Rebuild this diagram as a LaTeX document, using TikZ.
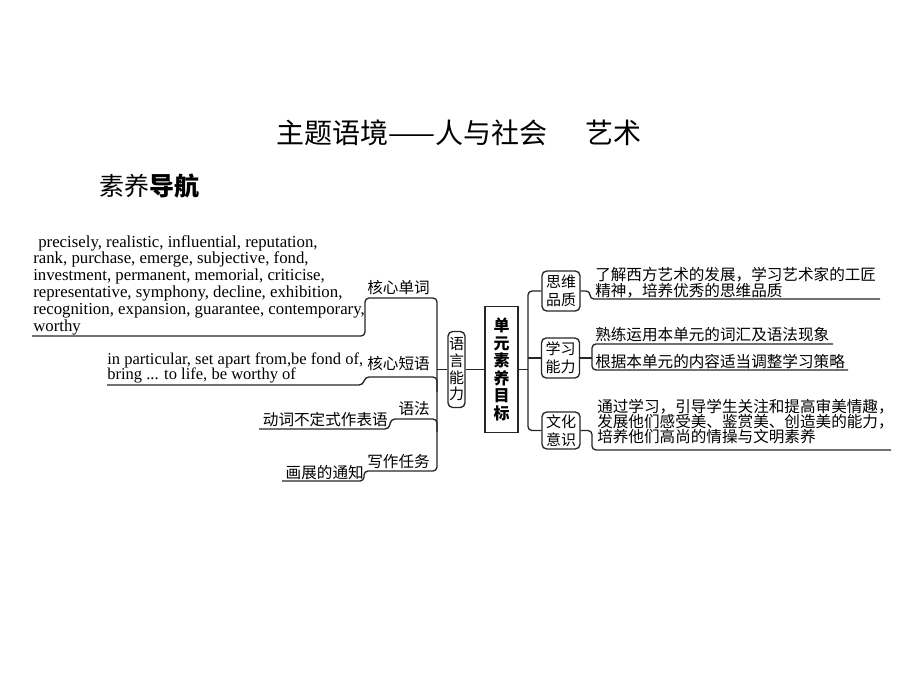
\documentclass[tikz,border=0pt]{standalone}
\usepackage{fontspec}
\setmainfont{Liberation Serif}
\newfontfamily\cjk{Noto Sans CJK SC}
\begin{document}
\begin{tikzpicture}[x=0.75pt,y=-0.75pt,
  ln/.style={line width=1pt, black!85, rounded corners=3pt},
  en/.style={font=\fontsize{12.4}{12.6}\selectfont, inner sep=0, anchor=base west},
  enw/.style={en, font=\fontsize{12.6}{12.6}\selectfont},
  zh/.style={font=\cjk\fontsize{11.7}{13}\selectfont, inner sep=0},
  zbox/.style={draw, line width=1pt, black!85, text=black, rounded corners=3.5pt, align=center, inner sep=0},
]
\useasboundingbox (0,0) rectangle (920,690);

% title
\node[anchor=west, inner sep=0, font=\cjk\fontsize{21}{22}\selectfont] (title) at (276,133) {主题语境——人与社会\hspace{1.35em}艺术};
\node[anchor=west, inner sep=0, font=\cjk\fontsize{18.75}{20}\selectfont] (nav) at (99,186) {素养{\bfseries 导航}};

% central boxes
\node[zbox, minimum width=12.75pt, minimum height=57pt, font=\cjk\fontsize{11.25}{12.5}\selectfont] (yy) at (456.5,369.5) {语\\言\\能\\力};
\node[zbox, sharp corners, minimum width=24.75pt, minimum height=94.5pt, font=\cjk\bfseries\fontsize{12}{13.1}\selectfont] (dy) at (501.5,369.5) {单\\元\\素\\养\\目\\标};

% right boxes
\node[zbox, minimum width=28.5pt, minimum height=30pt, font=\cjk\fontsize{11.25}{13.5}\selectfont] (sw) at (561,291) {思维\\品质};
\node[zbox, minimum width=28.5pt, minimum height=30pt, font=\cjk\fontsize{11.25}{13.5}\selectfont] (xx) at (560.5,358) {学习\\能力};
\node[zbox, minimum width=28.5pt, minimum height=27.75pt, font=\cjk\fontsize{11.25}{13.5}\selectfont] (wh) at (561,430.5) {文化\\意识};

% left labels
\node[zh, anchor=east] (hxdc) at (430,288) {核心单词};
\node[zh, anchor=east] (hxdy) at (430,364) {核心短语};
\node[zh, anchor=east] (yf) at (430,409) {语法};
\node[zh, anchor=east] (xzrw) at (430,462) {写作任务};
\node[zh, anchor=east] (dc) at (388,420) {动词不定式作表语};
\node[zh, anchor=east] (hz) at (364,473) {画展的通知};

% english words
\node[enw] (w1) at (38,247) {precisely, realistic, influential, reputation,};
\node[enw] (w2) at (33,263.8) {rank, purchase, emerge, subjective, fond,};
\node[enw] (w3) at (33,280.6) {investment, permanent, memorial, criticise,};
\node[enw] (w4) at (33,297.4) {representative, symphony, decline, exhibition,};
\node[enw] (w5) at (33,314.2) {recognition, expansion, guarantee, contemporary,};
\node[enw] (w6) at (33,331) {worthy};
\node[en] (p1) at (107,364) {in particular, set apart from,be fond of,};
\node[en] (p2) at (107,379) {bring ... to life, be worthy of};

% right texts
\node[zh, anchor=west] (s1) at (595,275) {了解西方艺术的发展，学习艺术家的工匠};
\node[zh, anchor=west] (s2) at (595,291) {精神，培养优秀的思维品质};
\node[zh, anchor=west] (x1) at (595,335) {熟练运用本单元的词汇及语法现象};
\node[zh, anchor=west] (x2) at (595,362) {根据本单元的内容适当调整学习策略};
\node[zh, anchor=west] (c1) at (597,407) {通过学习，引导学生关注和提高审美情趣，};
\node[zh, anchor=west] (c2) at (597,422) {发展他们感受美、鉴赏美、创造美的能力，};
\node[zh, anchor=west] (c3) at (597,437) {培养他们高尚的情操与文明素养};

% coordinates
\coordinate (wl) at (32,336);
\coordinate (hzl) at (282,481);
\coordinate (pl) at (107,385);
\coordinate (dcl) at (259,429);
\coordinate (lt) at (437,369.5);
\coordinate (rt) at (528,369.5);
\coordinate (swend) at (880,299);
\coordinate (x1end) at (833,344);
\coordinate (x2end) at (848,370);
\coordinate (whend) at (891,450);

% left connectors
\draw[ln] (wl) -- (365,336) -- (365,298) -- (437,298) -- (437,471) -- (364,471) -- (364,481) -- (hzl);
\draw[ln] (pl) -- (363,385) -- (365,377) -- (437,377) -- (437,392);
\draw[ln] (dcl) -- (389,429) -- (391,419) -- (437,419) -- (437,432);
\draw[ln] (lt) -- (yy.west);
\draw[ln] (yy.east) -- (dy.west);

% right connectors
\draw[ln] (dy.east) -- (rt);
\draw[ln] (sw.west) -- (sw.west -| rt) -- (wh.west -| rt) -- (wh.west);
\draw[ln] (xx.west) -- (xx.west -| rt);
\draw[ln] (sw.east) -- (590,291) -- (590,299) -- (swend);
\draw[ln] (xx.east) -- (592,358);
\draw[ln] (x1end) -- (592,344) -- (592,370) -- (x2end);
\draw[ln] (wh.east) -- (592,430.5) -- (592,450) -- (whend);
\end{tikzpicture}
\end{document}
